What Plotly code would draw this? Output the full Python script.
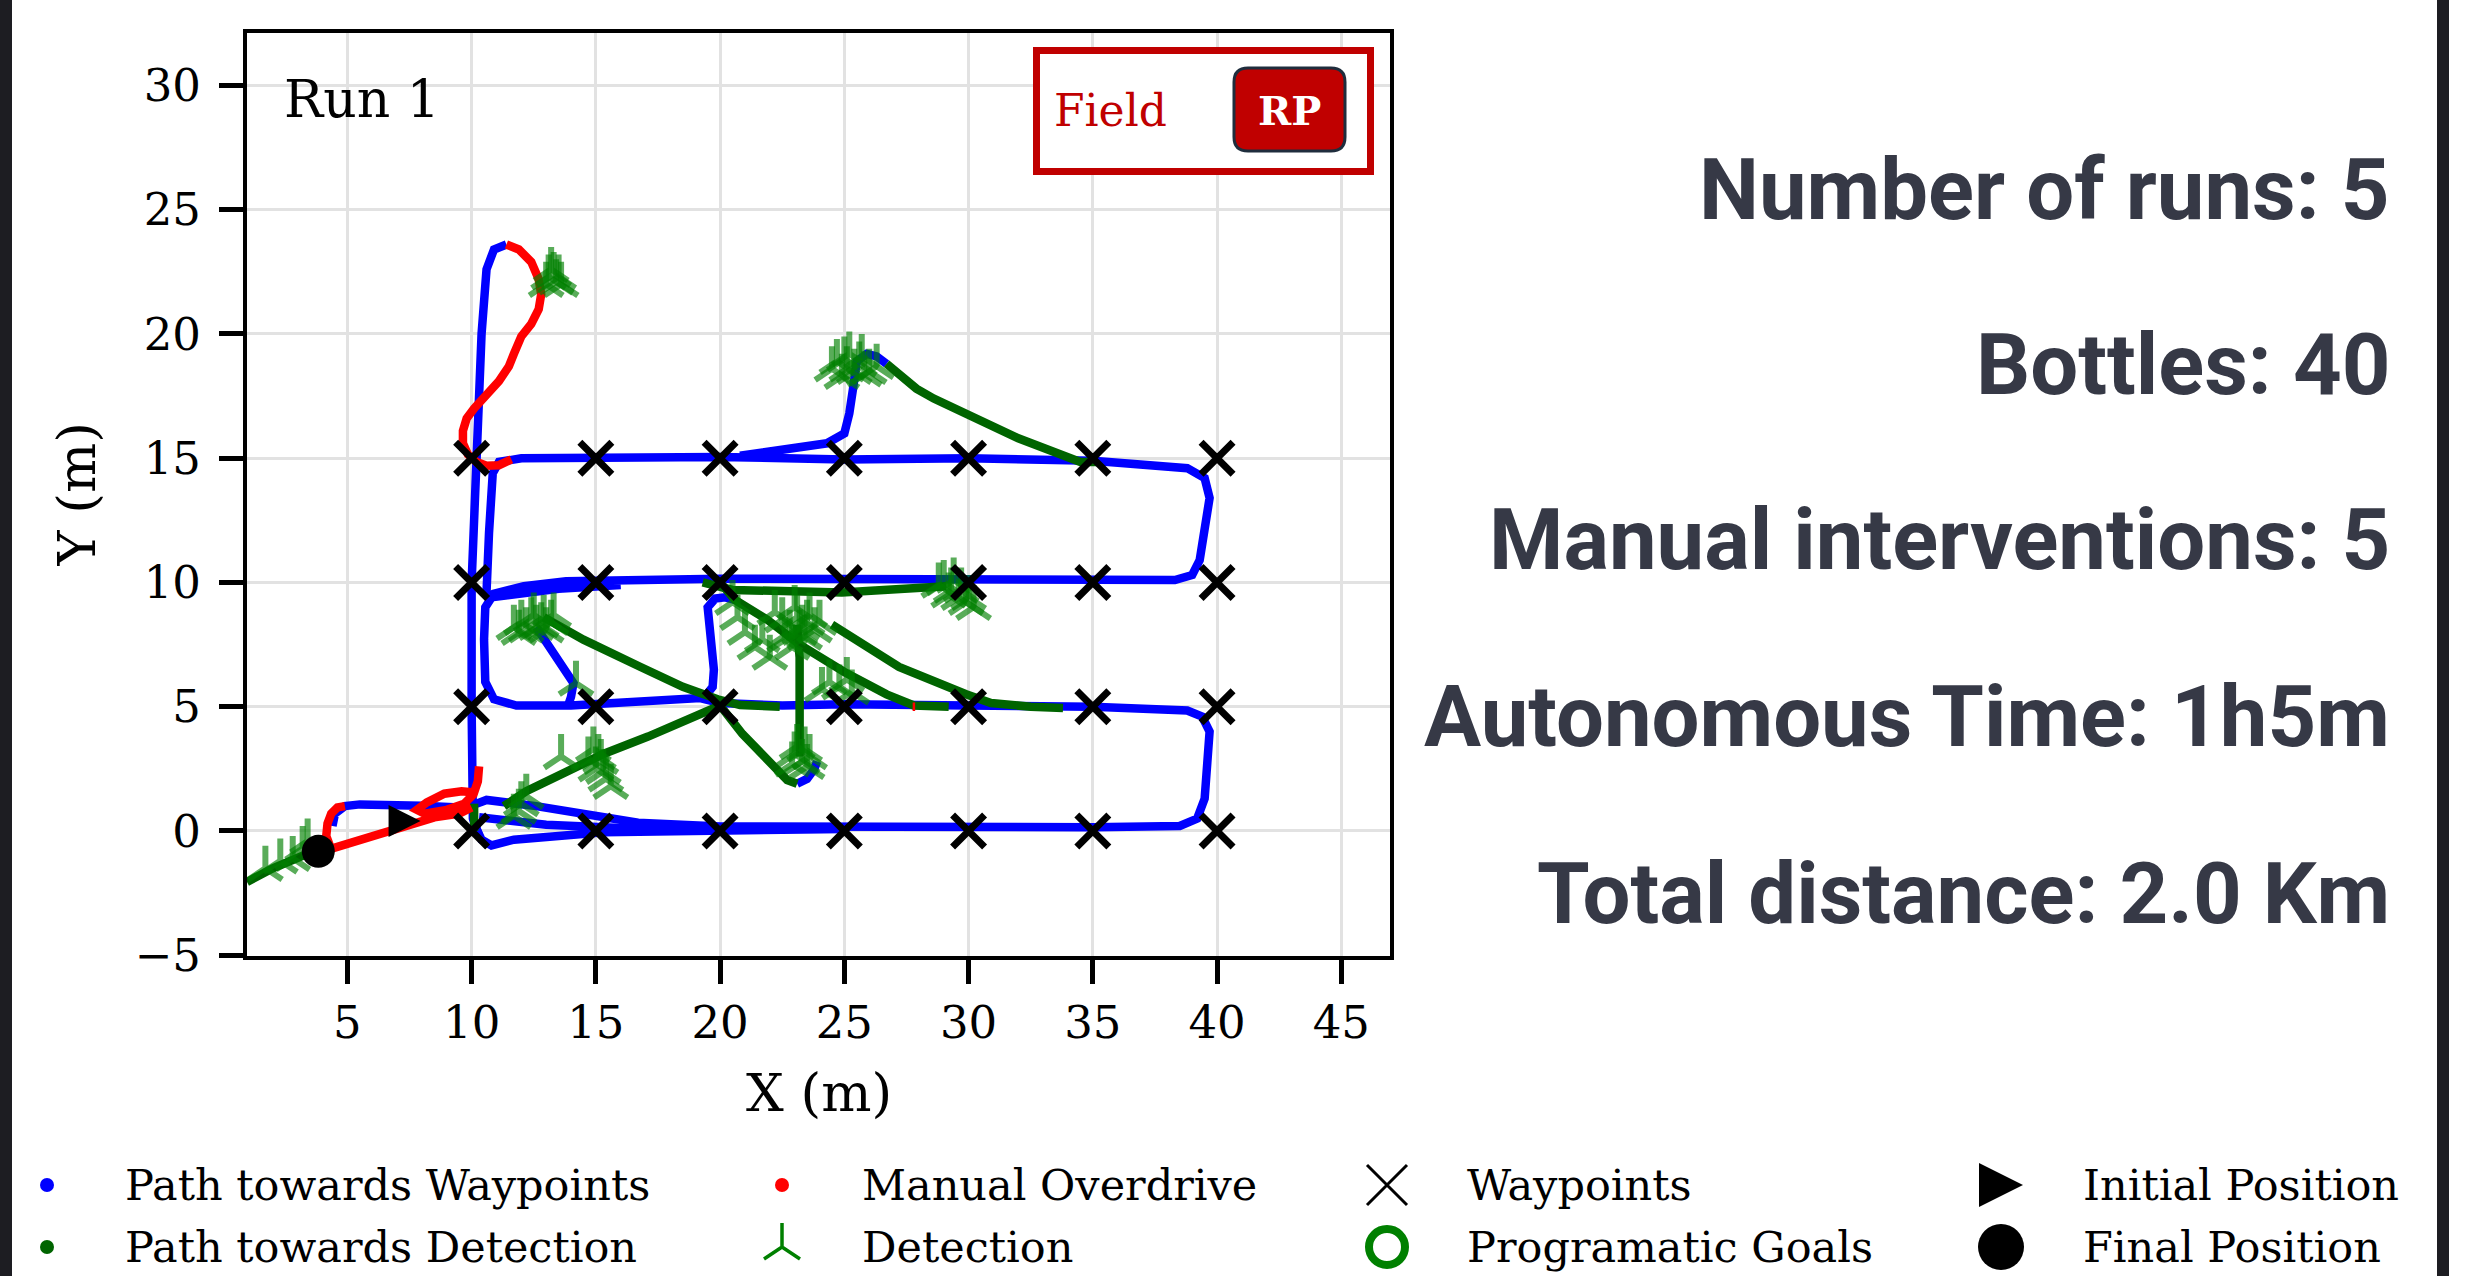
import plotly.graph_objects as go

W, H = 2475, 1276

# ---------------- data (metres) ----------------
waypoint_cols = [10, 15, 20, 25, 30, 35, 40]
waypoint_rows = [0, 5, 10, 15]

# robot track while heading to survey waypoints
wp_sweep = [(4.4, 0.2), (4.5, 0.7), (4.9, 1.0), (5.5, 1.07), (8.0, 1.02), (9.5, 0.95), (10.2, 1.1),
            (10.6, 1.25), (12.6, 1.0), (16.7, 0.33), (20.0, 0.18), (25.0, 0.15), (30.0, 0.15),
            (35.0, 0.15), (38.5, 0.2), (39.2, 0.5), (39.5, 1.3), (39.7, 4.0), (39.4, 4.6), (38.8, 4.85),
            (35.0, 5.0), (30.0, 5.07), (25.0, 5.1), (22.5, 5.05), (20.0, 5.15), (19.2, 5.35), (17.0, 5.25),
            (14.0, 5.05), (11.8, 5.05), (10.9, 5.3), (10.55, 6.0), (10.5, 7.7), (10.55, 9.0), (10.9, 9.55),
            (12.1, 9.85), (13.8, 10.05), (20.0, 10.15), (30.0, 10.15), (35.0, 10.1), (38.3, 10.1),
            (39.0, 10.3), (39.3, 10.9), (39.7, 13.4), (39.5, 14.2), (38.8, 14.6), (35.0, 14.9),
            (30.0, 15.0), (25.0, 14.95), (20.0, 15.05), (15.0, 15.0), (12.0, 15.0), (11.1, 14.85),
            (10.85, 14.4), (10.7, 12.0), (10.6, 9.6), (10.8, 9.4), (11.5, 9.5), (13.5, 9.75), (16.0, 9.9)]
wp_west_edge = [(10.3, -0.2), (10.05, 0.5), (10.0, 5.0), (10.0, 10.0), (10.2, 15.0), (10.4, 20.0),
                (10.6, 22.6), (10.9, 23.4), (11.4, 23.6)]
wp_south_low = [(10.1, 0.3), (10.4, -0.35), (10.8, -0.58), (11.7, -0.35), (15.3, -0.05), (20.0, 0.02),
                (25.0, 0.08)]
wp_south_mid = [(10.3, 0.55), (13.0, 0.25), (16.0, 0.12), (20.0, 0.1)]
wp_detour_north = [(20.8, 15.1), (21.9, 15.25), (24.3, 15.6), (25.0, 16.0), (25.2, 16.8), (25.35, 17.8),
                   (25.5, 18.9), (25.9, 19.2), (26.3, 19.1), (26.7, 18.8)]
wp_from_cluster = [(12.6, 8.2), (13.2, 7.3), (13.8, 6.5), (14.1, 5.95), (14.0, 5.4), (13.9, 5.1)]
wp_curl_north = [(19.3, 5.3), (19.7, 5.8), (19.75, 6.5), (19.6, 8.3), (19.5, 9.0), (19.8, 9.35),
                 (20.2, 9.4), (20.6, 9.3)]
wp_curl_south = [(23.1, 1.9), (23.5, 2.1), (23.8, 2.5), (23.9, 2.8)]

# manual (tele-operated) driving
manual_north = [(11.4, 23.6), (11.9, 23.4), (12.4, 22.9), (12.7, 22.2), (12.8, 21.6), (12.7, 21.0),
                (12.4, 20.4), (12.0, 19.9), (11.7, 19.2), (11.5, 18.7), (11.1, 18.1), (10.6, 17.6),
                (10.1, 17.0), (9.8, 16.6), (9.65, 16.1), (9.65, 15.6), (9.85, 15.15), (10.2, 14.85),
                (10.6, 14.7), (11.1, 14.72), (11.6, 14.95)]
manual_loop = [(10.3, 2.6), (10.25, 2.0), (10.1, 1.55), (9.6, 1.6), (8.9, 1.5), (8.2, 1.15), (7.8, 0.85),
               (8.1, 0.7), (9.0, 0.85), (9.7, 1.1), (10.1, 1.5)]
manual_return = [(10.0, 0.95), (9.5, 0.7), (8.5, 0.55), (7.0, 0.1), (5.6, -0.35), (4.5, -0.7), (3.9, -0.85)]
manual_exit = [(4.3, -0.6), (4.15, -0.2), (4.2, 0.3), (4.35, 0.7), (4.6, 0.95), (4.9, 1.0)]
manual_blip = [(27.75, 5.0), (27.85, 5.0)]

# robot track while heading to a detected bottle
goal_northeast = [(26.7, 18.8), (27.9, 17.8), (28.6, 17.4), (29.9, 16.8), (32.0, 15.8), (34.5, 14.85),
                  (35.2, 14.85)]
goal_west = [(12.9, 8.6), (14.5, 7.7), (16.8, 6.6), (18.5, 5.8), (19.9, 5.3), (20.8, 5.07), (22.4, 5.0)]
goal_south = [(11.3, 1.0), (12.2, 1.6), (13.85, 2.4), (15.3, 3.1), (17.1, 3.8), (19.2, 4.7), (20.0, 5.05),
              (20.9, 3.9), (22.3, 2.4), (22.7, 2.05), (23.1, 1.9)]
goal_vertical = [(23.2, 3.0), (23.2, 3.9), (23.15, 5.5), (23.2, 6.97), (23.1, 8.3)]
goal_central = [(20.0, 10.0), (20.6, 9.3), (21.9, 8.5), (23.2, 7.5), (25.0, 6.4), (26.7, 5.5), (27.8, 5.05),
                (29.2, 5.0)]
goal_east = [(24.5, 8.3), (27.2, 6.6), (29.9, 5.5), (30.9, 5.15), (32.5, 5.0), (33.8, 4.95)]
goal_row10 = [(19.3, 10.0), (20.5, 9.7), (24.9, 9.6), (27.9, 9.8), (29.1, 9.85)]
goal_final = [(0.96, -2.05), (2.0, -1.5), (3.2, -1.0), (3.8, -0.8)]
goal_stub = [(10.1, 0.0), (10.1, 1.1)]

# bottle detections
detection_x = [13.3, 13.4, 13.0, 13.6, 13.2, 13.5, 13.1,
               24.7, 24.9, 25.2, 25.4, 25.6, 25.8, 26.3, 25.1, 24.5, 25.0, 25.7, 26.0,
               11.7, 12.0, 12.4, 12.6, 12.9, 13.2, 12.2, 13.3, 11.9, 12.5, 12.8, 13.0,
               14.2,
               13.6, 14.7, 15.0, 15.2, 15.4, 15.6, 14.9, 15.1, 15.3,
               11.7, 12.0, 12.2, 11.9,
               1.7, 2.3, 2.8, 3.2, 3.4,
               20.5, 20.7, 21.0, 21.4, 22.0, 22.5, 22.8, 23.1, 23.3, 23.6, 24.0, 22.9, 23.4,
               22.2, 22.6, 23.0, 23.5, 23.8, 21.7, 23.2,
               24.4, 24.8, 25.1, 24.1, 25.3,
               23.0, 23.3, 23.6, 22.9, 23.4, 23.1, 23.5,
               29.0, 29.3, 29.6, 29.9, 30.2, 29.4, 28.8, 29.2, 29.7, 30.0]
detection_y = [22.4, 22.1, 22.0, 22.0, 22.6, 22.3, 22.3,
               18.9, 18.3, 19.2, 18.5, 18.8, 18.4, 18.7, 18.6, 18.6, 19.0, 19.1, 18.5,
               8.2, 8.4, 8.5, 8.2, 8.6, 8.4, 8.1, 8.7, 8.0, 8.7, 8.3, 8.1,
               5.95,
               3.0, 2.9, 2.5, 2.8, 2.1, 1.8, 3.3, 3.0, 2.4,
               0.6, 1.1, 1.4, 0.8,
               -1.5, -1.2, -1.1, -0.7, -0.4,
               9.2, 8.6, 8.0, 7.4, 7.0, 8.5, 8.0, 8.6, 8.2, 8.7, 8.4, 7.4, 7.8,
               8.8, 7.7, 9.0, 8.4, 8.1, 7.7, 8.0,
               6.0, 5.8, 6.1, 5.7, 5.6,
               3.1, 2.8, 3.0, 2.7, 3.3, 3.4, 2.6,
               10.0, 9.7, 9.4, 9.2, 9.0, 10.1, 9.9, 9.5, 9.7, 9.4]

initial_position = (7.3, 0.4)
final_position = (3.83, -0.82)

x_ticks = [5, 10, 15, 20, 25, 30, 35, 40, 45]
y_ticks = [-5, 0, 5, 10, 15, 20, 25, 30]

# summary figures
stats_lines = ["Number of runs: 5", "Bottles: 40", "Manual interventions: 5",
               "Autonomous Time: 1h5m", "Total distance: 2.0 Km"]

legend_labels = [["Path towards Waypoints", "Path towards Detection"],
                 ["Manual Overdrive", "Detection"],
                 ["Waypoints", "Programatic Goals"],
                 ["Initial Position", "Final Position"]]

# ---------------- styling ----------------
SERIF = "DejaVu Serif"
BLUE, RED, DKGREEN = "#0000ff", "#ff0000", "#006400"
DET = "rgba(0,128,0,0.65)"
LINE_W = 8.5

# plot area in pixels
PX_L, PX_R, PX_T, PX_B = 247, 1390, 33, 956
X_RANGE = [0.96, 46.96]
Y_RANGE = [-5.03, 32.11]


def join(*segments):
    xs, ys = [], []
    for seg in segments:
        xs += [p[0] for p in seg] + [None]
        ys += [p[1] for p in seg] + [None]
    return xs, ys


def px(x):
    return x / W


def py(y):
    return 1 - y / H


fig = go.Figure()

bx, by = join(wp_sweep, wp_west_edge, wp_south_low, wp_south_mid, wp_detour_north,
              wp_from_cluster, wp_curl_north, wp_curl_south)
fig.add_trace(go.Scatter(x=bx, y=by, mode="lines", line=dict(color=BLUE, width=LINE_W),
                         showlegend=False, hoverinfo="skip"))

gx, gy = join(goal_northeast, goal_west, goal_south, goal_vertical, goal_central, goal_east,
              goal_row10, goal_final, goal_stub)
fig.add_trace(go.Scatter(x=gx, y=gy, mode="lines", line=dict(color=DKGREEN, width=LINE_W),
                         showlegend=False, hoverinfo="skip"))

rx, ry = join(manual_north, manual_loop, manual_return, manual_exit, manual_blip)
fig.add_trace(go.Scatter(x=rx, y=ry, mode="lines", line=dict(color=RED, width=LINE_W),
                         showlegend=False, hoverinfo="skip"))

fig.add_trace(go.Scatter(x=detection_x, y=detection_y, mode="markers",
                         marker=dict(symbol="y-up", size=28, color=DET,
                                     line=dict(color=DET, width=6)),
                         showlegend=False, hoverinfo="skip"))

wx = [c for r in waypoint_rows for c in waypoint_cols]
wy = [r for r in waypoint_rows for c in waypoint_cols]
fig.add_trace(go.Scatter(x=wx, y=wy, mode="markers",
                         marker=dict(symbol="x-thin", size=32, color="black",
                                     line=dict(color="black", width=7)),
                         showlegend=False, hoverinfo="skip"))

# right-pointing triangle centred on the point
fig.add_trace(go.Scatter(x=[initial_position[0]], y=[initial_position[1]], mode="markers",
                         marker=dict(symbol="arrow-down", size=32, angle=-90, standoff=16,
                                     color="black", line=dict(width=0)),
                         showlegend=False, hoverinfo="skip"))
fig.add_trace(go.Scatter(x=[final_position[0]], y=[final_position[1]], mode="markers",
                         marker=dict(symbol="circle", size=33, color="black", line=dict(width=0)),
                         showlegend=False, hoverinfo="skip"))

# ---------------- legend (drawn on a full-figure pixel axis) ----------------
col_marker_x = [47, 782, 1387, 2001]
col_text_x = [123, 860, 1465, 2081]
row_y = [1185, 1247]
legend_styles = [
    [dict(symbol="circle", size=14, color=BLUE, line=dict(width=0)),
     dict(symbol="circle", size=14, color=DKGREEN, line=dict(width=0))],
    [dict(symbol="circle", size=14, color=RED, line=dict(width=0)),
     dict(symbol="y-up", size=30, color="#008000", line=dict(color="#008000", width=3.5))],
    [dict(symbol="x-thin", size=40, color="black", line=dict(color="black", width=3)),
     dict(symbol="circle-open", size=36, color="#008000", line=dict(color="#008000", width=8))],
    [dict(symbol="arrow-down", size=44, angle=-90, standoff=22, color="black", line=dict(width=0)),
     dict(symbol="circle", size=46, color="black", line=dict(width=0))],
]
annotations = []
for c in range(4):
    for r in range(2):
        fig.add_trace(go.Scatter(x=[col_marker_x[c]], y=[row_y[r]], mode="markers",
                                 marker=legend_styles[c][r], xaxis="x2", yaxis="y2",
                                 cliponaxis=False, showlegend=False, hoverinfo="skip"))
        annotations.append(dict(text=legend_labels[c][r], xref="paper", yref="paper",
                                x=px(col_text_x[c]), y=py(row_y[r]), xanchor="left",
                                yanchor="middle", showarrow=False,
                                font=dict(family=SERIF, size=43, color="black")))

# axis titles and in-plot labels
annotations += [
    dict(text="X (m)", xref="paper", yref="paper", x=px((PX_L + PX_R) / 2), y=py(1092),
         xanchor="center", yanchor="middle", showarrow=False,
         font=dict(family=SERIF, size=53, color="black")),
    dict(text="Y (m)", xref="paper", yref="paper", x=px(76), y=py((PX_T + PX_B) / 2),
         xanchor="center", yanchor="middle", showarrow=False, textangle=-90,
         font=dict(family=SERIF, size=53, color="black")),
    dict(text="Run 1", xref="paper", yref="paper", x=px(282), y=py(99), xanchor="left",
         yanchor="middle", showarrow=False, font=dict(family=SERIF, size=52, color="black")),
    dict(text="Field", xref="paper", yref="paper", x=px(1052), y=py(110), xanchor="left",
         yanchor="middle", showarrow=False, font=dict(family=SERIF, size=44, color="#c00000")),
    dict(text="<b>RP</b>", xref="paper", yref="paper", x=px(1289), y=py(110), xanchor="center",
         yanchor="middle", showarrow=False, font=dict(family=SERIF, size=40, color="white")),
]

stats_y = [190, 365, 540, 717, 894]
for txt, yy in zip(stats_lines, stats_y):
    annotations.append(dict(text=txt, xref="paper", yref="paper", x=px(2392), y=py(yy),
                            xanchor="right", yanchor="middle", showarrow=False,
                            font=dict(family="Roboto", size=85, color="#363946", weight="bold")))


def rounded_rect(x0, y0, x1, y1, rad):
    # pixel corners -> paper path with rounded corners
    return (f"M {px(x0 + rad)},{py(y0)} L {px(x1 - rad)},{py(y0)} "
            f"Q {px(x1)},{py(y0)} {px(x1)},{py(y0 + rad)} L {px(x1)},{py(y1 - rad)} "
            f"Q {px(x1)},{py(y1)} {px(x1 - rad)},{py(y1)} L {px(x0 + rad)},{py(y1)} "
            f"Q {px(x0)},{py(y1)} {px(x0)},{py(y1 - rad)} L {px(x0)},{py(y0 + rad)} "
            f"Q {px(x0)},{py(y0)} {px(x0 + rad)},{py(y0)} Z")


shapes = [
    # field badge
    dict(type="rect", xref="paper", yref="paper", x0=px(1036.5), x1=px(1370.5), y0=py(171.5),
         y1=py(50.5), line=dict(color="#c00000", width=7), fillcolor="white", layer="above"),
    dict(type="path", xref="paper", yref="paper", path=rounded_rect(1234, 68, 1345, 151, 14),
         line=dict(color="#1f2d3d", width=3), fillcolor="#c00000", layer="above"),
    # card edges
    dict(type="rect", xref="paper", yref="paper", x0=0, x1=px(12), y0=0, y1=1,
         line=dict(width=0), fillcolor="#1d1d22", layer="above"),
    dict(type="rect", xref="paper", yref="paper", x0=px(2437), x1=px(2449), y0=0, y1=1,
         line=dict(width=0), fillcolor="#1d1d22", layer="above"),
]

axis_common = dict(showline=True, linewidth=4, linecolor="black", mirror=True,
                   ticks="outside", ticklen=24, tickwidth=5, tickcolor="black",
                   showgrid=True, gridcolor="#e2e2e2", gridwidth=3, zeroline=False,
                   tickfont=dict(family=SERIF, size=45, color="black"))

fig.update_layout(
    width=W, height=H, autosize=False,
    margin=dict(l=0, r=0, t=0, b=0, pad=0, autoexpand=False),
    paper_bgcolor="white", plot_bgcolor="rgba(0,0,0,0)",
    showlegend=False,
    xaxis=dict(domain=[px(PX_L), px(PX_R)], range=X_RANGE, tickvals=x_ticks,
               anchor="y", **axis_common),
    yaxis=dict(domain=[py(PX_B), py(PX_T)], range=Y_RANGE, tickvals=y_ticks,
               anchor="x", ticklabelstandoff=9, **axis_common),
    xaxis2=dict(domain=[0, 1], range=[0, W], visible=False, anchor="y2", fixedrange=True),
    yaxis2=dict(domain=[0, 1], range=[H, 0], visible=False, anchor="x2", fixedrange=True),
    annotations=annotations,
    shapes=shapes,
)

fig.write_html("out.html")
